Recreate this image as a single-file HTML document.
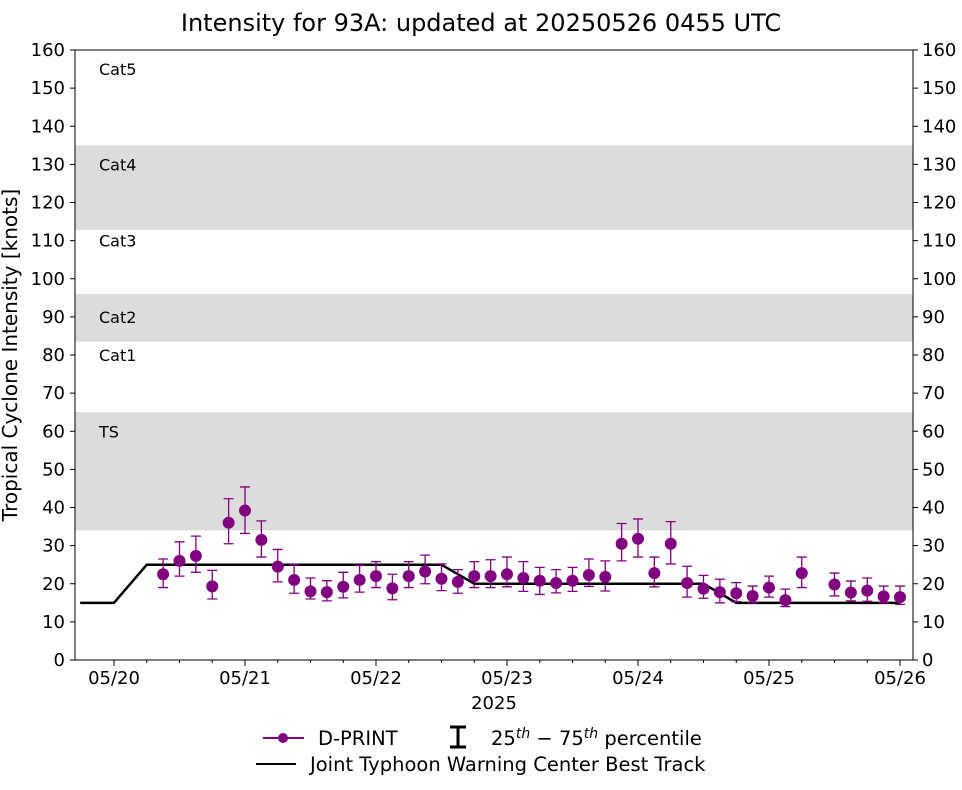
<!DOCTYPE html>
<html><head><meta charset="utf-8"><style>
body{margin:0;background:#fff;}
svg text{font-family:"DejaVu Sans","Liberation Sans",sans-serif;}
</style></head><body>
<svg id="chart" width="962" height="785" xmlns="http://www.w3.org/2000/svg">
<text x="481" y="31" font-size="24" text-anchor="middle">Intensity for 93A: updated at 20250526 0455 UTC</text>
<g id="bands"></g>
<g id="grid"></g>
<g id="bt"></g>
<g id="pts"></g>
<rect x="75" y="50" width="838" height="610" fill="none" stroke="#000" stroke-width="1"/>
<text x="17" y="355" font-size="20" text-anchor="middle" transform="rotate(-90 17 355)">Tropical Cyclone Intensity [knots]</text>
<text x="494" y="709" font-size="18" text-anchor="middle">2025</text>
<g>
<line x1="263" y1="738" x2="304" y2="738" stroke="#800080" stroke-width="2"/>
<circle cx="283" cy="738" r="5" fill="#800080"/>
<text x="318" y="745" font-size="19.5">D-PRINT</text>
<path d="M450 727 H466 M458 727 V747 M450 747 H466" stroke="#000" stroke-width="3" fill="none"/>
<text x="491" y="745" font-size="19.5">25<tspan dy="-7" font-size="14" font-style="italic">th</tspan><tspan dy="7"> − 75</tspan><tspan dy="-7" font-size="14" font-style="italic">th</tspan><tspan dy="7"> percentile</tspan></text>
<line x1="256" y1="764" x2="296" y2="764" stroke="#000" stroke-width="2"/>
<text x="310" y="771" font-size="19.5">Joint Typhoon Warning Center Best Track</text>
</g>
</svg>
<script>
const hours=[9,12,15,18,21,24,27,30,33,36,39,42,45,48,51,54,57,60,63,66,69,72,75,78,81,84,87,90,93,96,99,102,105,108,111,114,117,120,123,126,132,135,138,141,144];
const vals=[22.5,26,27.3,19.3,36,39.2,31.5,24.5,21,18,17.8,19.2,21,22,18.8,22,23.2,21.3,20.5,22,22,22.5,21.5,20.8,20.2,20.8,22.3,21.8,30.5,31.8,22.8,30.5,20.2,18.7,17.8,17.5,16.8,19,15.7,22.8,19.8,17.7,18.2,16.7,16.5];
const lows=[19,22,23,16,30.5,33.2,27,20.5,17.5,16,15.5,16.3,17.8,19,15.8,19,20,18.2,17.5,19,19,19.2,18,17.2,17.6,18,19.3,18.1,26,27,19.2,25.2,16.5,16.2,15,15.3,15,16.5,14,19,16.8,15.5,15.4,15,14.6];
const highs=[26.5,31,32.5,23.5,42.3,45.4,36.5,29,25,21.5,20.8,23,24.8,25.8,22.5,25.8,27.5,25.2,23.7,25.8,26.3,27,25.8,24.3,23.7,24.3,26.5,26,35.8,37,27,36.3,24.6,22.2,21.2,20.3,19.4,22,18.6,27,22.8,20.7,21.5,19.4,19.4];
const btHours=[-6.2,0,6,60,66,108,114,144];
const btVals=[15,15,25,25,20,20,15,15];
const yTicks=[0,10,20,30,40,50,60,70,80,90,100,110,120,130,140,150,160];
const xTickLabels=["05/20","05/21","05/22","05/23","05/24","05/25","05/26"];
const bandLo=[34,83.5,112.8];
const bandHi=[65,96,135];
const catNames=["TS","Cat1","Cat2","Cat3","Cat4","Cat5"];
const catVals=[60,80,90,110,130,155];

const NS="http://www.w3.org/2000/svg";
const X=h=>114+h*131/24;
const Y=v=>660-v*610/160;
function mk(p,tag,attrs){const e=document.createElementNS(NS,tag);for(const k in attrs)e.setAttribute(k,attrs[k]);document.getElementById(p).appendChild(e);return e;}
bandLo.forEach((lo,i)=>{const r=mk('bands','rect',{x:75,y:Y(bandHi[i]),width:838,height:Y(lo)-Y(bandHi[i]),fill:'#dcdcdc'});

});
catNames.forEach((c,i)=>{const t=mk('bands','text',{x:99,y:Y(catVals[i])+6,'font-size':16});t.textContent=c;

});
yTicks.forEach(v=>{const y=Y(v);
mk('grid','line',{x1:70,x2:75,y1:y,y2:y,stroke:'#000'});mk('grid','line',{x1:913,x2:918,y1:y,y2:y,stroke:'#000'});
const a=mk('grid','text',{x:65,y:y+6,'font-size':18,'text-anchor':'end'});a.textContent=v;


const b=mk('grid','text',{x:922,y:y+6,'font-size':18});b.textContent=v;

});
xTickLabels.forEach((l,i)=>{const x=X(i*24);mk('grid','line',{x1:x,x2:x,y1:660,y2:666,stroke:'#000'});
const t=mk('grid','text',{x:x,y:684,'font-size':18,'text-anchor':'middle'});t.textContent=l;

});
for(let d=0;d<6;d++)[6,12,18].forEach(h=>{const x=X(d*24+h);mk('grid','line',{x1:x,x2:x,y1:660,y2:663,stroke:'#000'});});
const bt=mk('bt','polyline',{points:btHours.map((h,i)=>X(h)+','+Y(btVals[i])).join(' '),fill:'none',stroke:'#000','stroke-width':2.5});


hours.forEach((h,i)=>{const x=X(h);
const e=mk('pts','path',{d:`M${x-5} ${Y(lows[i])}H${x+5}M${x} ${Y(lows[i])}V${Y(highs[i])}M${x-5} ${Y(highs[i])}H${x+5}`,stroke:'#800080','stroke-width':1.3,fill:'none'});


const c=mk('pts','circle',{cx:x,cy:Y(vals[i]),r:6,fill:'#800080'});

});
</script>
</body></html>
